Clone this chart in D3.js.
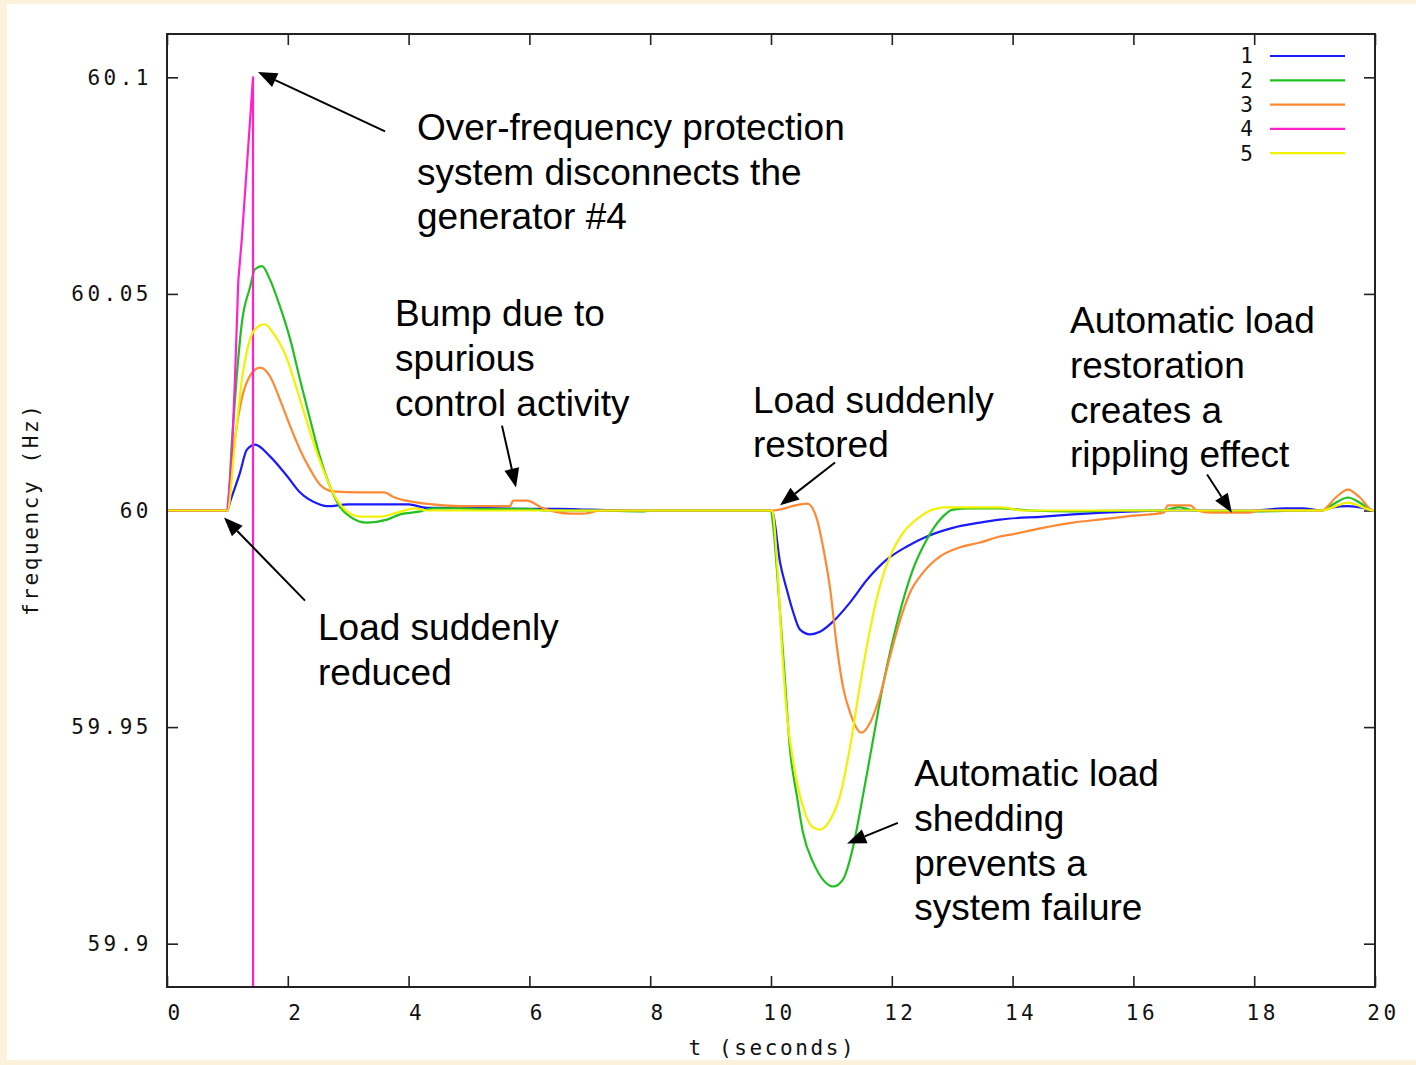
<!DOCTYPE html>
<html>
<head>
<meta charset="utf-8">
<script src="https://cdn.jsdelivr.net/npm/d3@7"></script>
<style>
  html, body { margin: 0; padding: 0; background: #fcf1db; }
  svg { display: block; }
</style>
</head>
<body>
<svg id="chart" width="1416" height="1065"></svg>
<script>
// ---- Frequency response of five generators (t in seconds, f in Hz) ----
const seriesNames = ["1", "2", "3", "4", "5"];
const seriesColors = ["#1a1aff", "#1fc01f", "#ff8833", "#ff22cc", "#f2f200"];

const t1 = [0, 1.0, 1.04, 1.21, 1.32, 1.457, 1.705, 1.99, 2.2, 2.53, 2.65, 3.0, 4.0, 4.3, 5.0, 6.0, 6.5, 7.0, 8.0, 10.0,
  10.03, 10.15, 10.26, 10.37, 10.48, 10.65, 10.81, 11.03, 11.31, 11.59, 11.92, 12.25, 12.58, 13.01, 13.46, 13.79,
  14.5, 15.0, 16.0, 16.5, 17.0, 18.0, 18.5, 18.8, 19.1, 19.3, 19.55, 19.8, 20.0];
const f1 = [60, 60, 60.0018, 60.0088, 60.014, 60.0152, 60.0125, 60.0079, 60.0042, 60.0014, 60.001, 60.0014, 60.0014,
  60.0006, 60.0006, 60.0004, 60.0004, 60.0002, 60, 60,
  59.9995, 59.988, 59.9818, 59.9764, 59.9725, 59.9714, 59.972, 59.9744, 59.9788, 59.984, 59.9887, 59.9917, 59.994,
  59.996, 59.9972, 59.9979, 59.9986, 59.9991, 59.9998, 60, 60, 60, 60.0005, 60.0005, 60.0, 60.0007, 60.001, 60.0006, 59.9998];

const t2 = [0, 1.0, 1.076, 1.16, 1.24, 1.374, 1.457, 1.573, 1.705, 1.87, 2.04, 2.2, 2.37, 2.53, 2.7, 2.86, 3.03, 3.31,
  3.64, 3.86, 4.2, 4.4, 4.85, 5.2, 5.7, 5.96, 6.3, 7.0, 7.9, 8.0, 10.0,
  10.03, 10.15, 10.23, 10.31, 10.43, 10.53, 10.7, 10.86, 11.03, 11.19, 11.36, 11.52, 11.69, 11.85, 12.02, 12.19,
  12.35, 12.58, 12.8, 13.01, 13.3, 13.8, 14.3, 15.0, 16.0, 16.5, 16.75, 17.0, 17.5, 18.0, 19.0, 19.12, 19.35,
  19.55, 19.75, 19.97, 20.0];
const f2 = [60, 60, 60.0164, 60.0319, 60.0434, 60.0515, 60.0557, 60.0564, 60.0533, 60.0471, 60.0395, 60.0303, 60.021,
  60.0125, 60.0055, 60.0009, 59.9986, 59.9972, 59.9979, 59.9991, 59.9998, 60.0005, 60.0005, 60.0003, 60.0004,
  60.0004, 60.0, 60.0, 59.9998, 60, 60,
  59.9972, 59.9764, 59.961, 59.9455, 59.934, 59.9256, 59.9187, 59.9148, 59.9132, 59.9148, 59.9224, 59.934,
  59.9471, 59.9594, 59.9702, 59.9794, 59.9864, 59.9933, 59.9979, 60.0002, 60.0005, 60.0005, 60.0, 59.9998,
  60.0, 60.0, 60.0008, 60.0, 59.9998, 59.9998, 60.0, 60.0, 60.0018, 60.003, 60.0018, 60.0, 60.0];

const t3 = [0, 1.0, 1.09, 1.21, 1.34, 1.54, 1.705, 1.87, 2.04, 2.2, 2.37, 2.53, 2.75, 3.2, 3.6, 3.74, 4.07, 4.4,
  4.85, 5.68, 5.73, 5.96, 6.2, 6.4, 6.67, 6.9, 7.2, 7.5, 8.0, 10.0,
  10.03, 10.48, 10.6, 10.76, 10.86, 10.98, 11.09, 11.19, 11.31, 11.5, 11.64, 11.8, 11.97, 12.14, 12.3, 12.52,
  12.8, 13.13, 13.46, 13.79, 14.0, 14.5, 15.0, 15.5, 16.0, 16.5, 16.57, 16.94, 17.05, 17.3, 17.9, 18.1, 18.8,
  19.12, 19.35, 19.55, 19.75, 19.97, 20.0];
const f3 = [60, 60, 60.0125, 60.024, 60.0302, 60.033, 60.031, 60.0256, 60.0194, 60.0141, 60.0095, 60.006, 60.0044,
  60.0042, 60.0042, 60.0032, 60.002, 60.0014, 60.001, 60.001, 60.0023, 60.0023, 60.0007, 59.9998, 59.9993,
  59.9993, 60.0, 60.0, 60.0, 60.0,
  60.0, 60.0014, 60.0016, 59.998, 59.9917, 59.9818, 59.9686, 59.9594, 59.9533, 59.9487, 59.951, 59.957,
  59.9663, 59.9748, 59.981, 59.9857, 59.9894, 59.9915, 59.9926, 59.994, 59.9945, 59.996, 59.9972, 59.998,
  59.9988, 59.9995, 60.0012, 60.0012, 60.0, 59.9995, 59.9995, 60.0, 60.0, 60.0, 60.003, 60.0048, 60.003,
  60.0, 60.0];

const t4 = [0, 1.0, 1.071, 1.126, 1.18, 1.237, 1.325, 1.424, 1.425];
const f4 = [60, 60, 60.0115, 60.0307, 60.053, 60.0624, 60.08, 60.1, 59.8];

const t5 = [0, 1.0, 1.13, 1.24, 1.374, 1.49, 1.62, 1.755, 1.99, 2.15, 2.32, 2.48, 2.65, 2.81, 2.98, 3.2, 3.53,
  3.81, 4.1, 4.3, 8.0, 10.0,
  10.03, 10.1, 10.18, 10.26, 10.37, 10.53, 10.68, 10.81, 10.98, 11.14, 11.31, 11.47, 11.64, 11.8, 11.97, 12.19,
  12.47, 12.68, 12.9, 13.8, 14.2, 16.0, 17.0, 19.12, 19.35, 19.55, 19.75, 19.97, 20.0];
const f5 = [60, 60, 60.0164, 60.0302, 60.0395, 60.0423, 60.043, 60.041, 60.0349, 60.028, 60.0203, 60.0134,
  60.0072, 60.0025, 59.9998, 59.9986, 59.9986, 59.9995, 60.0005, 60.0, 60.0, 60,
  59.9995, 59.988, 59.9686, 59.9533, 59.9418, 59.9316, 59.927, 59.9263, 59.9286, 59.934, 59.9455, 59.9594,
  59.9725, 59.9824, 59.9894, 59.9949, 59.9986, 60.0002, 60.0007, 60.0007, 60.0, 60.0, 60.0, 60.0, 60.001,
  60.0018, 60.001, 60.0, 60.0];

const seriesT = [t1, t2, t3, t4, t5];
const seriesF = [f1, f2, f3, f4, f5];

// ---- Axis ticks ----
const xTicks = [0, 2, 4, 6, 8, 10, 12, 14, 16, 18, 20];
const yTicks = [59.9, 59.95, 60, 60.05, 60.1];
const yTickLabels = ["59.9", "59.95", "60", "60.05", "60.1"];
const xTitle = "t (seconds)";
const yTitle = "frequency (Hz)";

// ---- Callouts: text lines anchored at (t, f) and arrows from tail to tip ----
const noteLines = [
  ["Over-frequency protection", "system disconnects the", "generator #4"],
  ["Bump due to", "spurious", "control activity"],
  ["Load suddenly", "restored"],
  ["Automatic load", "restoration", "creates a", "rippling effect"],
  ["Load suddenly", "reduced"],
  ["Automatic load", "shedding", "prevents a", "system failure"]
];
const noteT = [4.139, 3.775, 9.702, 14.95, 2.50, 12.37];
const noteF = [60.0855, 60.0425, 60.0226, 60.0409, 59.9700, 59.9363];
const arrowTail = [[3.61, 60.0875], [5.546, 60.0196], [11.06, 60.0111], [17.22, 60.0083], [2.285, 59.9792], [12.10, 59.9279]];
const arrowTip  = [[1.507, 60.1012], [5.778, 60.0053], [10.15, 60.0012], [17.63, 59.9995], [0.944, 59.9984], [11.26, 59.9231]];

// ---- Layout ----
const W = 1416, H = 1065;
const plot = { left: 167, right: 1375, top: 34, bottom: 987 };
const mono = "'DejaVu Sans Mono', 'Liberation Mono', monospace";
const sans = "'Liberation Sans', Arial, Helvetica, sans-serif";
const monoSize = 21, monoSpacing = 3.5, titleSpacing = 2.6;

const svg = d3.select("#chart");
svg.append("rect").attr("width", W).attr("height", H).attr("fill", "#fcf1db");
svg.append("rect").attr("x", 7).attr("y", 4).attr("width", W - 7).attr("height", 1056).attr("fill", "#ffffff");

const x = d3.scaleLinear().domain([0, 20]).range([plot.left, plot.right]);
const y = d3.scaleLinear().domain([59.89, 60.11]).range([plot.bottom, plot.top]);

svg.append("defs").append("clipPath").attr("id", "plotClip")
  .append("rect").attr("x", plot.left).attr("y", plot.top)
  .attr("width", plot.right - plot.left).attr("height", plot.bottom - plot.top);

// ---- Axes (ticks point inward on all four sides) ----
function styleAxis(g) {
  g.select(".domain").remove();
  g.selectAll(".tick line").attr("stroke", "#222").attr("stroke-width", 1.6);
  g.selectAll(".tick text")
    .attr("font-family", mono).attr("font-size", monoSize)
    .attr("letter-spacing", monoSpacing).attr("fill", "#111");
}
svg.append("g").attr("transform", `translate(0,${plot.bottom})`)
  .call(d3.axisBottom(x).tickValues(xTicks).tickSizeInner(-11).tickSizeOuter(0).tickPadding(18)
    .tickFormat(d3.format("d")))
  .call(styleAxis)
  .call(g => g.selectAll(".tick text").attr("dx", 8));
svg.append("g").attr("transform", `translate(0,${plot.top})`)
  .call(d3.axisTop(x).tickValues(xTicks).tickSizeInner(-11).tickSizeOuter(0).tickFormat(""))
  .call(styleAxis);
svg.append("g").attr("transform", `translate(${plot.left},0)`)
  .call(d3.axisLeft(y).tickValues(yTicks).tickSizeInner(-11).tickSizeOuter(0).tickPadding(15)
    .tickFormat((d, i) => yTickLabels[i]))
  .call(styleAxis);
svg.append("g").attr("transform", `translate(${plot.right},0)`)
  .call(d3.axisRight(y).tickValues(yTicks).tickSizeInner(-11).tickSizeOuter(0).tickFormat(""))
  .call(styleAxis);

// Axis titles
svg.append("text").attr("x", (plot.left + plot.right) / 2 + titleSpacing / 2).attr("y", 1055)
  .attr("text-anchor", "middle").attr("font-family", mono).attr("font-size", monoSize)
  .attr("letter-spacing", titleSpacing).attr("fill", "#111").text(xTitle);
svg.append("text")
  .attr("transform", `translate(38,${y(60)}) rotate(-90)`)
  .attr("text-anchor", "middle").attr("dx", titleSpacing / 2).attr("font-family", mono).attr("font-size", monoSize)
  .attr("letter-spacing", titleSpacing).attr("fill", "#111").text(yTitle);

// ---- Series lines ----
const lines = svg.append("g").attr("clip-path", "url(#plotClip)");
seriesT.forEach((ts, i) => {
  const pts = ts.map((t, j) => [t, seriesF[i][j]]);
  const gen = d3.line().x(d => x(d[0])).y(d => y(d[1]))
    .curve(i === 3 ? d3.curveLinear : d3.curveMonotoneX);
  lines.append("path").datum(pts)
    .attr("fill", "none").attr("stroke", seriesColors[i])
    .attr("stroke-width", 2.2).attr("stroke-linejoin", "round")
    .attr("d", gen);
});

// ---- Frame ----
svg.append("rect").attr("x", plot.left).attr("y", plot.top)
  .attr("width", plot.right - plot.left).attr("height", plot.bottom - plot.top)
  .attr("fill", "none").attr("stroke", "#222").attr("stroke-width", 2);

// ---- Legend ----
const legend = svg.append("g");
seriesNames.forEach((name, i) => {
  const ly = 56 + i * 24.3;
  legend.append("text").attr("x", 1253 + monoSpacing).attr("y", ly).attr("dy", "0.35em")
    .attr("text-anchor", "end").attr("font-family", mono).attr("font-size", monoSize)
    .attr("letter-spacing", monoSpacing).attr("fill", "#111").text(name);
  legend.append("line").attr("x1", 1270).attr("x2", 1345).attr("y1", ly).attr("y2", ly)
    .attr("stroke", seriesColors[i]).attr("stroke-width", 2.2);
});

// ---- Callout text ----
const notes = svg.append("g").attr("font-family", sans).attr("font-size", 37).attr("fill", "#000");
noteLines.forEach((ls, i) => {
  const txt = notes.append("text").attr("x", x(noteT[i])).attr("y", y(noteF[i]));
  ls.forEach((s, k) => {
    txt.append("tspan").attr("x", x(noteT[i])).attr("dy", k === 0 ? 0 : 44.6).text(s);
  });
});

// ---- Callout arrows ----
const arrows = svg.append("g");
arrowTail.forEach((tail, i) => {
  const x0 = x(tail[0]), y0 = y(tail[1]);
  const x1 = x(arrowTip[i][0]), y1 = y(arrowTip[i][1]);
  const a = Math.atan2(y1 - y0, x1 - x0);
  const len = 19, half = 7.5;
  const bx = x1 - len * Math.cos(a), by = y1 - len * Math.sin(a);
  arrows.append("line").attr("x1", x0).attr("y1", y0).attr("x2", bx).attr("y2", by)
    .attr("stroke", "#000").attr("stroke-width", 2);
  const p = [
    [x1, y1],
    [bx + half * Math.sin(a), by - half * Math.cos(a)],
    [bx - half * Math.sin(a), by + half * Math.cos(a)]
  ];
  arrows.append("path").attr("d", "M" + p.map(q => q.join(",")).join("L") + "Z").attr("fill", "#000");
});
</script>
</body>
</html>
